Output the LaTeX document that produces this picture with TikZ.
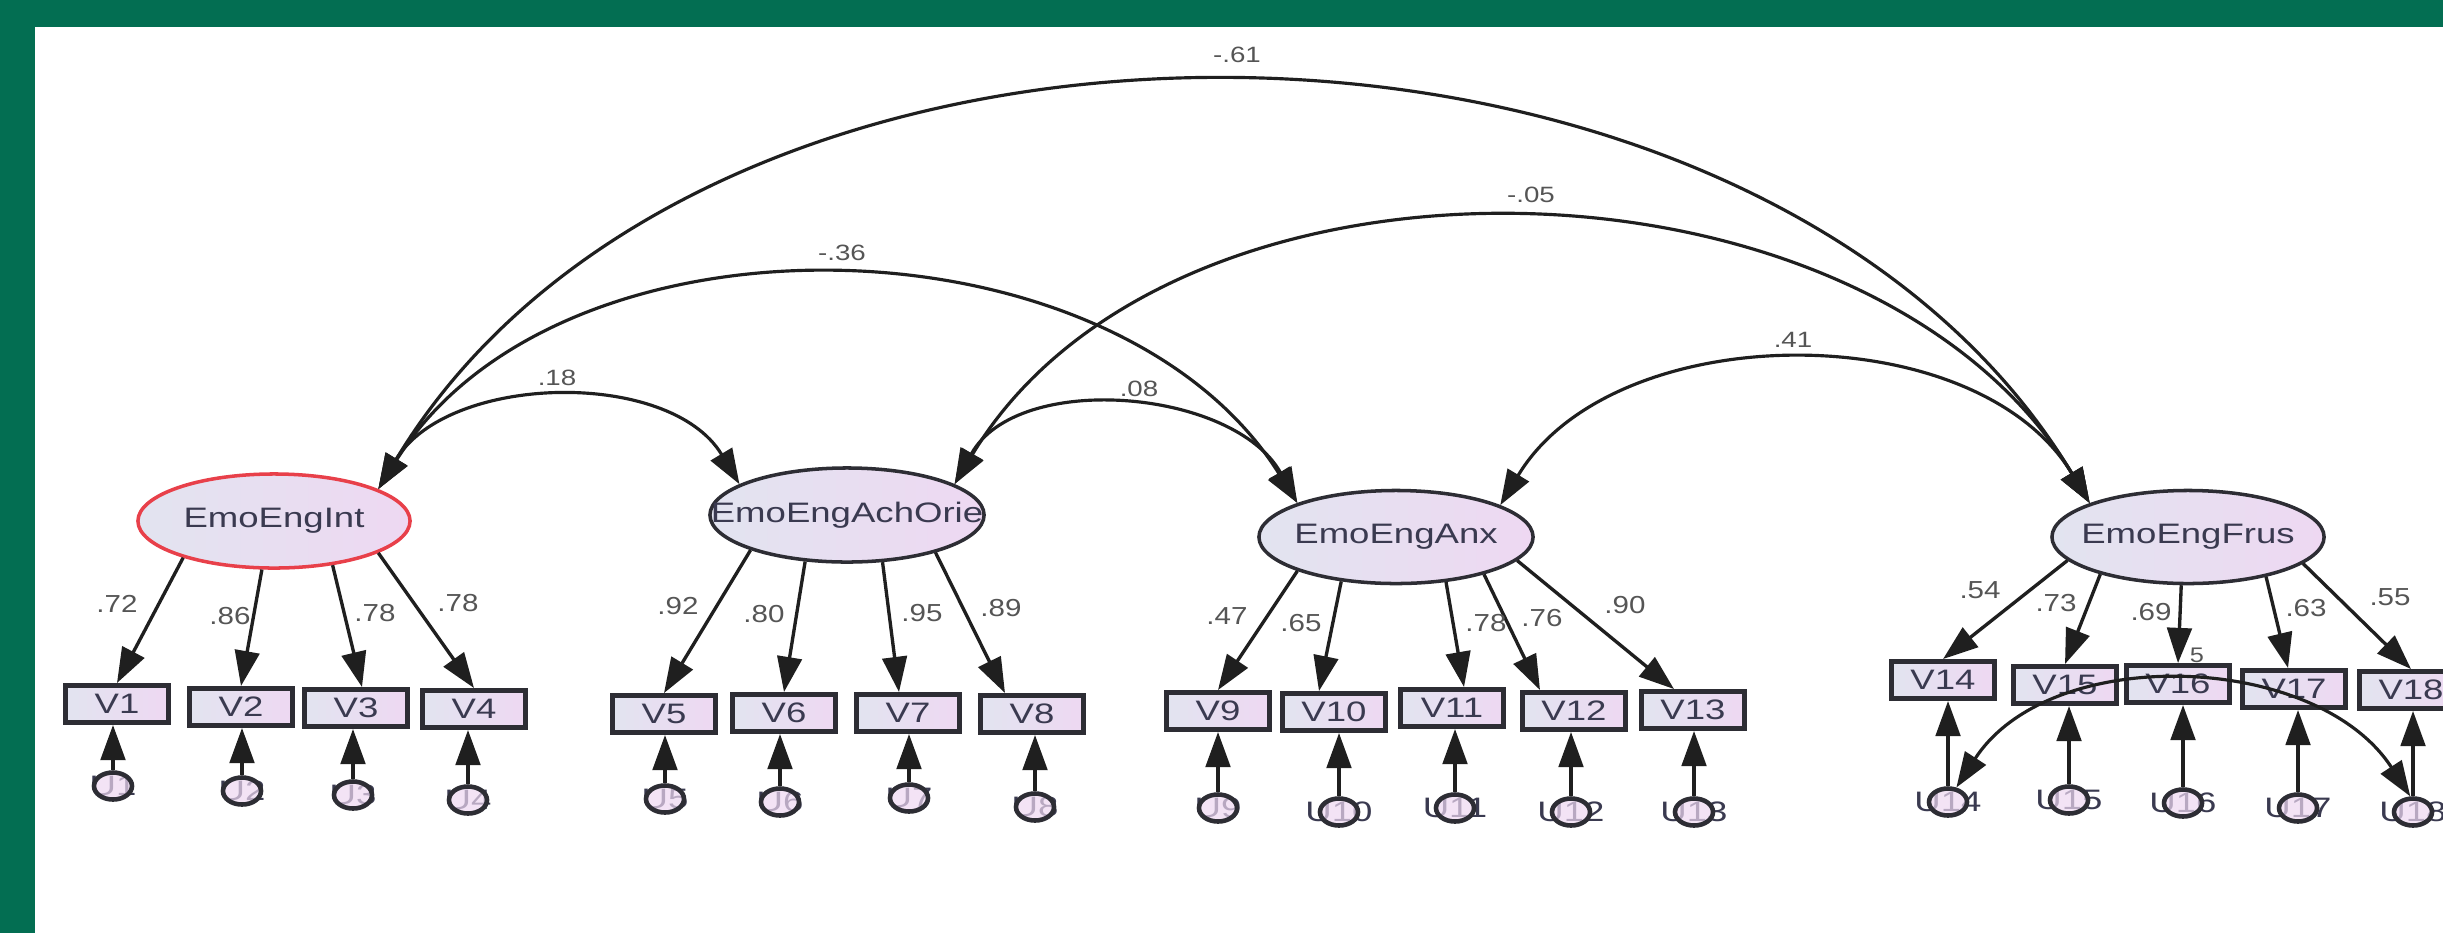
\documentclass[tikz,border=0pt]{standalone}
\usepackage{fontspec}
\usepackage{graphicx}
\setmainfont{Liberation Sans}
\usetikzlibrary{shapes.geometric,arrows.meta}
\definecolor{bggreen}{RGB}{3,110,82}
\definecolor{fillA}{RGB}{226,228,240}
\definecolor{fillB}{RGB}{238,216,242}
\definecolor{edge}{RGB}{45,45,52}
\definecolor{txt}{RGB}{58,58,80}
\definecolor{lab}{RGB}{85,85,85}
\definecolor{rededge}{RGB}{232,64,74}
\newcommand{\sx}[2][1.3]{\scalebox{#1}[1]{#2}}
\begin{document}
\begin{tikzpicture}[x=0.01cm,y=0.01cm,
  lat/.style={ellipse,draw=edge,line width=1pt,left color=fillA,right color=fillB,inner sep=0pt,minimum width=2.72cm,minimum height=0.94cm},
  lattext/.style={text=txt,font=\fontsize{8}{9}\selectfont,inner sep=0pt},
  obs/.style={rectangle,draw=edge,line width=1.4pt,left color=fillA,right color=fillB,inner sep=0pt,minimum width=1.03cm,minimum height=0.37cm,text=txt,font=\fontsize{8}{9}\selectfont},
  err/.style={ellipse,draw=edge,line width=1.3pt,fill=fillB,fill opacity=0.7,inner sep=0pt,minimum width=0.38cm,minimum height=0.27cm},
  errtext/.style={text=txt,font=\fontsize{8}{9}\selectfont,inner sep=0pt},
  ld/.style={text=lab,font=\fontsize{7}{8}\selectfont,inner sep=0pt},
  cl/.style={text=lab,font=\fontsize{6.3}{7}\selectfont,inner sep=0pt},
  arr/.style={draw=black!88,line width=0.95pt,-{Triangle[length=10pt,width=7pt]}},
  cov/.style={draw=black!88,line width=0.9pt,{Triangle[length=10pt,width=7pt]}-{Triangle[length=10pt,width=7pt]},looseness=0.955}
]
\useasboundingbox (0,0) rectangle (2443,-933);
\clip (0,0) rectangle (2443,-933);
\fill[bggreen] (0,0) rectangle (2443,-933);
\fill[white] (35,-27) rectangle (2443,-933);

% latent variables
\node[lat,draw=rededge] (EI) at (274,-521) {};
\node[lattext] (tEI) at (EI.center) {\sx{EmoEngInt}};
\node[lat,minimum width=2.74cm] (EA) at (847,-515) {};
\node[lattext] (tEA) at (EA.center) {\sx{EmoEngAchOrie}};
\node[lat,minimum width=2.74cm,minimum height=0.93cm] (EX) at (1396,-537) {};
\node[lattext] (tEX) at (EX.center) {\sx{EmoEngAnx}};
\node[lat,minimum height=0.93cm] (EF) at (2188,-537) {};
\node[lattext] (tEF) at (EF.center) {\sx{EmoEngFrus}};

% hidden label behind V16
\node[ld,font=\fontsize{6}{7}\selectfont] (hid) at (2197,-655) {\sx[1.2]{5}};

% observed variables
\foreach \n/\x/\y in {1/117/704,2/241/707,3/356/708,4/474/709,5/664/714,6/784/713,7/908/713,8/1032/714,9/1218/711,10/1334/712,11/1452/708,12/1574/711,13/1693/710,14/1943/680,15/2065/685,16/2178/684,17/2294/689,18/2411/690}
  \node[obs] (V\n) at (\x,-\y) {\sx{V\n}};

% error terms
\foreach \n/\x/\y in {1/113/786,2/242/791,3/353/795,4/468/800,5/665/799,6/780/802,7/909/798,8/1035/807,9/1218/808,10/1339/812,11/1455/808,12/1571/812,13/1694/812,14/1948/802,15/2069/800,16/2183/803,17/2298/808,18/2413/812}
  {\node[errtext] (tU\n) at (\x,-\y) {\sx{U\n}};
   \node[err] (U\n) at (\x,-\y) {};}

% covariances
\draw[cov] (EI.17) to[out=59,in=121] (EF.161);
\draw[cov] (EI.17) to[out=58,in=122] (EX.161);
\draw[cov] (EI.17) to[out=59,in=121] (EA.164);
\draw[cov,looseness=0.97] (EA.16) to[out=61,in=119] (EX.161);
\draw[cov] (EA.16) to[out=59,in=121] (EF.161);
\draw[cov] (EX.17) to[out=59,in=121] (EF.161);

\node[cl] (c1) at (1237,-55) {\sx[1.25]{-.61}};
\node[cl] (c2) at (1531,-195) {\sx[1.25]{-.05}};
\node[cl] (c3) at (1793,-340) {\sx[1.25]{.41}};
\node[cl] (c4) at (842,-253) {\sx[1.25]{-.36}};
\node[cl] (c5) at (557,-378) {\sx[1.25]{.18}};
\node[cl] (c6) at (1139,-389) {\sx[1.25]{.08}};

% loadings
\draw[arr] (EI.202) -- (V1.north);
\draw[arr] (EI.256) -- (V2.north);
\draw[arr] (EI.323) -- ([xshift=0.06cm]V3.north);
\draw[arr] (EI.343) -- (V4.north);
\draw[arr] (EA.200) -- (V5.north);
\draw[arr] (EA.228) -- (V6.north);
\draw[arr] (EA.307) -- ([xshift=-0.09cm]V7.north);
\draw[arr] (EA.337) -- ([xshift=-0.27cm]V8.north);
\draw[arr] (EX.199) -- (V9.north);
\draw[arr] (EX.219) -- ([xshift=-0.15cm]V10.north);
\draw[arr] (EX.318) -- ([xshift=0.12cm]V11.north);
\draw[arr] (EX.337) -- ([xshift=-0.34cm]V12.north);
\draw[arr] (EX.349) -- ([xshift=-0.19cm]V13.north);
\draw[arr] (EF.191) -- (V14.north);
\draw[arr] (EF.203) -- (V15.north);
\draw[arr] (EF.262) -- (V16.north);
\draw[arr] (EF.333) -- ([xshift=-0.06cm]V17.north);
\draw[arr] (EF.347) -- (V18.north);

\node[ld] (l1) at (117,-604) {\sx[1.2]{.72}};
\node[ld] (l2) at (230,-616) {\sx[1.2]{.86}};
\node[ld] (l3) at (375,-613) {\sx[1.2]{.78}};
\node[ld] (l4) at (458,-603) {\sx[1.2]{.78}};
\node[ld] (l5) at (678,-606) {\sx[1.2]{.92}};
\node[ld] (l6) at (764,-614) {\sx[1.2]{.80}};
\node[ld] (l7) at (922,-613) {\sx[1.2]{.95}};
\node[ld] (l8) at (1001,-608) {\sx[1.2]{.89}};
\node[ld] (l9) at (1227,-616) {\sx[1.2]{.47}};
\node[ld] (l10) at (1301,-623) {\sx[1.2]{.65}};
\node[ld] (l11) at (1486,-623) {\sx[1.2]{.78}};
\node[ld] (l12) at (1542,-618) {\sx[1.2]{.76}};
\node[ld] (l13) at (1625,-605) {\sx[1.2]{.90}};
\node[ld] (l14) at (1980,-590) {\sx[1.2]{.54}};
\node[ld] (l15) at (2056,-603) {\sx[1.2]{.73}};
\node[ld] (l16) at (2151,-612) {\sx[1.2]{.69}};
\node[ld] (l17) at (2306,-608) {\sx[1.2]{.63}};
\node[ld] (l18) at (2390,-597) {\sx[1.2]{.55}};

% error arrows
\foreach \n in {1,...,18}
  \draw[arr] (U\n) -- (U\n |- V\n.south);

% error covariance
\draw[cov,looseness=0.97] (U14.60) to[out=57,in=123] (U18.100);
\end{tikzpicture}
\end{document}
